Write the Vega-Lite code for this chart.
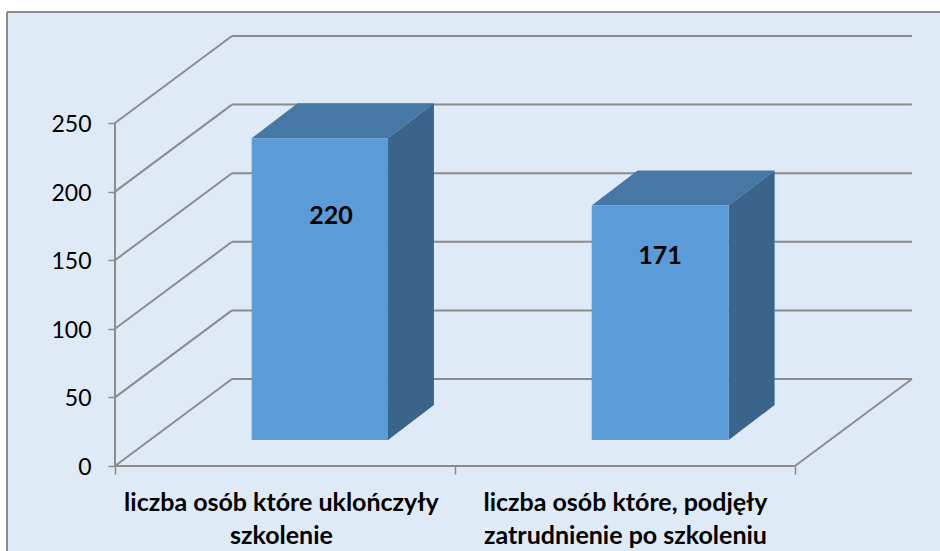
{
"$schema":"https://vega.github.io/schema/vega-lite/v6.json",
"width":933,"height":539,
"autosize":{"type":"none"},
"padding":{"left":7,"top":12,"right":0,"bottom":0},
"background":"white",
"view":{"fill":"#deeaf6","stroke":null},
"datasets":{
"bars":[
{"category":"liczba osób które uklończyły szkolenie","value":220,"x0":0.3,"x1":0.701,"labelX":0.635,"labelY":182.3},
{"category":"liczba osób które, podjęły zatrudnienie po szkoleniu","value":171,"x0":1.3,"x1":1.703,"labelX":1.603,"labelY":152.8}
],
"levels":[{"v":0},{"v":50},{"v":100},{"v":150},{"v":200},{"v":250}],
"frame":[
{"x":0,"x2":0,"y":0,"y2":250},
{"x":0,"x2":2,"y":0,"y2":0},
{"x":2,"x2":2.344,"y":0,"y2":63.4},
{"x":-0.3176,"x2":2.4265,"y":330.9,"y2":330.9},
{"x":-0.3176,"x2":-0.3176,"y":-61.95,"y2":330.9}
],
"sides":[
{"bar":"a","x":0.701,"y":220,"y2":0},{"bar":"a","x":0.836,"y":245.5,"y2":25.5},
{"bar":"b","x":1.703,"y":171,"y2":0},{"bar":"b","x":1.838,"y":196.5,"y2":25.5}
],
"tops":[
{"bar":"a","x":0.3,"y":220,"y2":220},{"bar":"a","x":0.435,"y":245.5,"y2":220},{"bar":"a","x":0.701,"y":245.5,"y2":220},{"bar":"a","x":0.836,"y":245.5,"y2":245.5},
{"bar":"b","x":1.3,"y":171,"y2":171},{"bar":"b","x":1.435,"y":196.5,"y2":171},{"bar":"b","x":1.703,"y":196.5,"y2":171},{"bar":"b","x":1.838,"y":196.5,"y2":196.5}
]
},
"layer":[
{
"data":{"name":"levels"},
"transform":[{"calculate":"0","as":"a"},{"calculate":"2","as":"b"}],
"mark":{"type":"rule","color":"#8c8c8c","strokeWidth":2,"xOffset":117,"x2Offset":117,"yOffset":-87},
"encoding":{
"x":{"field":"a","type":"quantitative","scale":{"domain":[-0.3176,2.4265],"nice":false,"zero":false},
"axis":{"title":null,"grid":false,"domain":false,"orient":"bottom","offset":-85,"values":[0,0.488,1,1.5,2],"tickSize":8,"tickWidth":1.5,"tickColor":"#8c8c8c","tickOpacity":{"condition":{"test":"datum.value % 1 === 0","value":1},"value":0},
"labelExpr":"datum.value === 0.488 ? ['liczba osób które uklończyły','szkolenie'] : datum.value === 1.5 ? ['liczba osób które, podjęły','zatrudnienie po szkoleniu'] : ''",
"labelFont":"Lato","labelFontSize":25,"labelFontWeight":"bold","labelColor":"#000000","labelLineHeight":33,"labelPadding":16,"labelLimit":500,"labelOverlap":false,"labelFlush":false}},
"x2":{"field":"b"},
"y":{"field":"v","type":"quantitative","scale":{"domain":[-61.95,330.9],"nice":false,"zero":false},
"axis":{"title":null,"grid":false,"domain":false,"orient":"left","offset":-108,"values":[0,50,100,150,200,250],"tickSize":7,"tickWidth":1.5,"tickColor":"#8c8c8c","labelFont":"Lato","labelFontSize":23,"labelColor":"#000000","labelPadding":17,"labelOffset":1.5}}
}
},
{
"data":{"name":"levels"},
"transform":[{"calculate":"datum.v+63.4","as":"vb"},{"calculate":"0","as":"a"},{"calculate":"0.344","as":"b"}],
"mark":{"type":"rule","color":"#8c8c8c","strokeWidth":2},
"encoding":{"x":{"field":"a","type":"quantitative"},"x2":{"field":"b"},"y":{"field":"v","type":"quantitative"},"y2":{"field":"vb"}}
},
{
"data":{"name":"frame"},
"mark":{"type":"rule","color":"#8c8c8c","strokeWidth":2},
"encoding":{"x":{"field":"x","type":"quantitative"},"x2":{"field":"x2"},"y":{"field":"y","type":"quantitative"},"y2":{"field":"y2"}}
},
{
"data":{"name":"tops"},
"mark":{"type":"area","color":"#4678a5","xOffset":34.7,"x2Offset":34.7,"yOffset":-26,"y2Offset":-26},
"encoding":{"x":{"field":"x","type":"quantitative"},"y":{"field":"y","type":"quantitative"},"y2":{"field":"y2"},"detail":{"field":"bar"}}
},
{
"data":{"name":"sides"},
"mark":{"type":"area","color":"#3a648b","xOffset":34.7,"x2Offset":34.7,"yOffset":-26,"y2Offset":-26},
"encoding":{"x":{"field":"x","type":"quantitative"},"y":{"field":"y","type":"quantitative"},"y2":{"field":"y2"},"detail":{"field":"bar"}}
},
{
"data":{"name":"bars"},
"mark":{"type":"bar","color":"#5b9bd8","xOffset":34.7,"x2Offset":34.7,"yOffset":-26,"y2Offset":-26},
"encoding":{"x":{"field":"x0","type":"quantitative"},"x2":{"field":"x1"},"y":{"field":"value","type":"quantitative"},"y2":{"datum":0}}
},
{
"data":{"name":"bars"},
"mark":{"type":"text","font":"Lato","fontSize":25,"fontWeight":"bold","color":"#000000"},
"encoding":{"x":{"field":"labelX","type":"quantitative"},"y":{"field":"labelY","type":"quantitative"},"text":{"field":"value","type":"quantitative"}}
}
]
}
